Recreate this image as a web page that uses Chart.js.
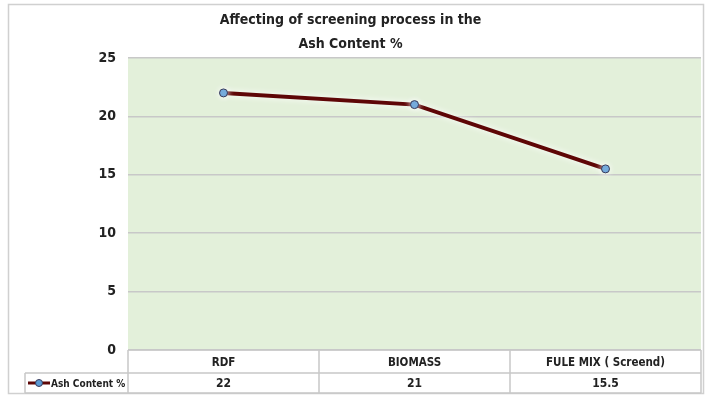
<!DOCTYPE html>
<html>
<head>
<meta charset="utf-8">
<script src="https://cdn.jsdelivr.net/npm/chart.js@4/dist/chart.umd.min.js"></script>
<style>
  body { margin: 0; background: #fff; }
  canvas { display: block; }
</style>
</head>
<body>
<canvas id="grafica" width="709" height="400"></canvas>
<script>
// Datos
const categorias = ['RDF', 'BIOMASS', 'FULE MIX ( Screend)'];
const cenizas = [22, 21, 15.5];
const serieNombre = 'Ash Content %';
const tituloLineas = ['Affecting of screening process in the', 'Ash Content %'];

const fuente = "'DejaVu Sans Condensed', 'DejaVu Sans', sans-serif";
const gris = '#c8c8c8';
const granate = '#5e0606';

// Marco, fondo verde y tabla de datos
const tablaPlugin = {
    id: 'tabla',
    beforeDraw(chart) {
        const c = chart.ctx, a = chart.chartArea;
        c.save();
        c.fillStyle = '#fff';
        c.fillRect(0, 0, chart.width, chart.height);
        c.strokeStyle = '#d0d0d0';
        c.lineWidth = 1.5;
        c.strokeRect(8.5, 4.5, 695, 389);
        c.fillStyle = '#e3f0da';
        c.fillRect(a.left, a.top, a.right - a.left, a.bottom - a.top);
        c.restore();
    },
    afterDraw(chart) {
        const c = chart.ctx, a = chart.chartArea, x = chart.scales.x;
        const y0 = a.bottom, y1 = a.bottom + 23, y2 = a.bottom + 43;
        const izq = 25;
        c.save();
        c.strokeStyle = gris;
        c.lineWidth = 1.5;
        c.beginPath();
        c.moveTo(a.left, y0); c.lineTo(a.right, y0);
        c.moveTo(izq, y1); c.lineTo(a.right, y1);
        c.moveTo(izq, y2); c.lineTo(a.right, y2);
        c.moveTo(izq, y1); c.lineTo(izq, y2);
        c.moveTo(a.left, y0); c.lineTo(a.left, y2);
        const ancho = (x.getPixelForValue(1) - x.getPixelForValue(0));
        categorias.forEach((_, i) => {
            const xr = x.getPixelForValue(i) + ancho / 2;
            c.moveTo(xr, y0); c.lineTo(xr, y2);
        });
        c.stroke();

        // valores
        c.fillStyle = '#222';
        c.font = 'bold 12px ' + fuente;
        c.textAlign = 'center';
        c.textBaseline = 'middle';
        cenizas.forEach((v, i) => c.fillText(String(v), x.getPixelForValue(i), (y1 + y2) / 2 + 1));

        // leyenda en la tabla
        const ym = (y1 + y2) / 2;
        c.strokeStyle = granate;
        c.lineWidth = 3;
        c.beginPath(); c.moveTo(28, ym); c.lineTo(50, ym); c.stroke();
        c.beginPath(); c.arc(39, ym, 3.5, 0, Math.PI * 2);
        c.fillStyle = '#5b9bd5'; c.fill();
        c.strokeStyle = '#3a3a5a'; c.lineWidth = 1; c.stroke();
        c.fillStyle = '#222';
        c.textAlign = 'left';
        c.font = 'bold 10px ' + fuente;
        c.fillText(serieNombre, 51, ym + 1);
        c.restore();
    }
};

// Resplandor blanco alrededor de la línea
const brilloPlugin = {
    id: 'brillo',
    beforeDatasetsDraw(chart) {
        chart.ctx.save();
        chart.ctx.shadowColor = 'rgba(255,255,255,1)';
        chart.ctx.shadowBlur = 6;
    },
    afterDatasetsDraw(chart) {
        chart.ctx.restore();
    }
};

const grafica = new Chart(document.getElementById('grafica').getContext('2d'), {
    type: 'line',
    data: {
        labels: categorias,
        datasets: [{
            label: serieNombre,
            data: cenizas,
            borderColor: granate,
            borderWidth: 4,
            pointRadius: 4,
            pointBackgroundColor: '#5b9bd5',
            pointBorderColor: '#3a3a5a',
            pointBorderWidth: 1,
            tension: 0
        }]
    },
    options: {
        responsive: false,
        animation: false,
        layout: { padding: { top: 0, right: 8, bottom: 7, left: 0 } },
        scales: {
            x: {
                offset: true,
                grid: { display: false, drawTicks: false },
                border: { display: false },
                ticks: { color: '#222', font: { family: fuente, size: 11.5, weight: 'bold' }, padding: 6 },
                afterFit: s => { s.height = 43; }
            },
            y: {
                min: 0, max: 25,
                ticks: { stepSize: 5, color: '#222', font: { family: fuente, size: 14, weight: 'bold' }, padding: 12 },
                grid: { color: gris, lineWidth: 1.5, drawTicks: false },
                border: { display: false },
                afterFit: s => { s.width = 128; }
            }
        },
        plugins: {
            legend: { display: false },
            tooltip: { enabled: false },
            title: {
                display: true,
                text: tituloLineas,
                color: '#222',
                font: { family: fuente, size: 14, weight: 'bold', lineHeight: 1.71 },
                padding: { top: 8, bottom: 2 }
            }
        }
    },
    plugins: [tablaPlugin, brilloPlugin]
});
</script>
</body>
</html>
